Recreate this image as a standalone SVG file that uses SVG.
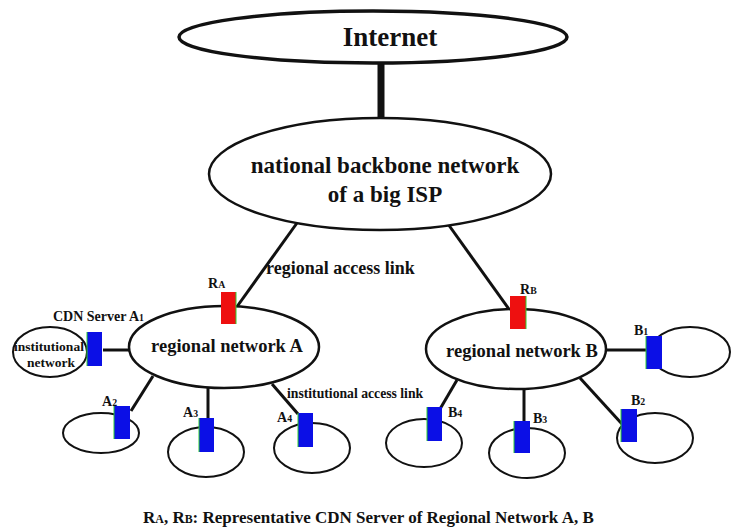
<svg xmlns="http://www.w3.org/2000/svg" width="735" height="529" viewBox="0 0 735 529">
  <style>
    text { font-family: "Liberation Serif", "Times New Roman", serif; font-weight: bold; fill: #111; }
    .net { fill: #fff; stroke: #111; stroke-width: 2.5; }
    .site { fill: #fff; stroke: #111; stroke-width: 2; }
    .link { stroke: #111; stroke-width: 3; fill: none; }
    .rep { fill: #ee1010; }
    .srv { fill: #0b0fe6; }
    .edge { stroke: #2fd02f; stroke-width: 1; }
    .mid { text-anchor: middle; }
    .sub { font-size: 70%; }
  </style>
  <rect width="735" height="529" fill="#fff"/>

  <!-- links between networks and servers -->
  <g id="connectors">
    <line x1="381" y1="62" x2="381" y2="119" stroke="#111" stroke-width="7"/>
    <line class="link" x1="297" y1="223" x2="236" y2="308"/>
    <line class="link" x1="448" y1="224" x2="511" y2="312"/>
    <line class="link" x1="103" y1="350" x2="134" y2="350"/>
    <line class="link" x1="153" y1="376" x2="131" y2="411"/>
    <line class="link" x1="208" y1="388" x2="208" y2="418"/>
    <line class="link" x1="272" y1="384" x2="298" y2="414"/>
    <line class="link" x1="606" y1="350" x2="647" y2="350"/>
    <line class="link" x1="457" y1="380" x2="440" y2="409"/>
    <line class="link" x1="524" y1="388" x2="524" y2="422"/>
    <line class="link" x1="580" y1="378" x2="622" y2="424"/>
  </g>

  <g id="internet">
    <ellipse cx="373" cy="37" rx="194" ry="26" fill="#fff" stroke="#111" stroke-width="3.5"/>
    <text class="mid" x="390" y="46" font-size="27">Internet</text>
  </g>

  <g id="backbone">
    <ellipse class="net" cx="380" cy="174" rx="171" ry="56"/>
    <text class="mid" x="385" y="173" font-size="23">national backbone network</text>
    <text class="mid" x="385" y="202" font-size="23">of a big ISP</text>
  </g>

  <text id="label-regional-access" x="266" y="274" font-size="18">regional access link</text>

  <g id="regional-a">
    <ellipse class="net" cx="224" cy="347" rx="95" ry="41"/>
    <text class="mid" x="227" y="352" font-size="18.5">regional network A</text>
  </g>

  <g id="regional-b">
    <ellipse class="net" cx="516" cy="349" rx="90" ry="40"/>
    <text class="mid" x="522" y="357" font-size="18.5">regional network B</text>
  </g>

  <g id="server-ra">
    <rect class="rep" x="221" y="292" width="15" height="32"/>
    <line class="edge" x1="236" y1="292" x2="236" y2="324"/>
    <text x="208" y="288" font-size="14">R<tspan class="sub">A</tspan></text>
  </g>

  <g id="server-rb">
    <rect class="rep" x="510" y="296" width="16" height="33"/>
    <line class="edge" x1="526" y1="296" x2="526" y2="329"/>
    <text x="520" y="294" font-size="14">R<tspan class="sub">B</tspan></text>
  </g>

  <g id="institution-a1">
    <ellipse class="site" cx="50" cy="352" rx="37" ry="25"/>
    <text class="mid" x="49" y="351" font-size="13.5">institutional</text>
    <text class="mid" x="51" y="367" font-size="13.5">network</text>
    <rect class="srv" x="87" y="332" width="15" height="34"/>
    <line class="edge" x1="87" y1="332" x2="87" y2="366"/>
    <text x="53" y="321" font-size="14">CDN Server A<tspan class="sub">1</tspan></text>
  </g>

  <g id="institution-a2">
    <ellipse class="site" cx="101" cy="433" rx="38" ry="20"/>
    <rect class="srv" x="114" y="406" width="16" height="33"/>
    <line class="edge" x1="114" y1="406" x2="114" y2="439"/>
    <text x="102" y="406" font-size="14">A<tspan class="sub">2</tspan></text>
  </g>

  <g id="institution-a3">
    <ellipse class="site" cx="206" cy="452" rx="38" ry="25"/>
    <rect class="srv" x="199" y="418" width="15" height="34"/>
    <line class="edge" x1="199" y1="418" x2="199" y2="452"/>
    <text x="183" y="417" font-size="14">A<tspan class="sub">3</tspan></text>
  </g>

  <g id="institution-a4">
    <ellipse class="site" cx="312" cy="448" rx="38" ry="25"/>
    <rect class="srv" x="298" y="413" width="15" height="34"/>
    <line class="edge" x1="298" y1="413" x2="298" y2="447"/>
    <text x="277" y="422" font-size="14">A<tspan class="sub">4</tspan></text>
  </g>

  <text id="label-institutional-access" x="287" y="398" font-size="13.7">institutional access link</text>

  <g id="institution-b1">
    <ellipse class="site" cx="690" cy="352" rx="40" ry="25"/>
    <rect class="srv" x="646" y="336" width="16" height="33"/>
    <line class="edge" x1="646" y1="336" x2="646" y2="369"/>
    <text x="634" y="335" font-size="14">B<tspan class="sub">1</tspan></text>
  </g>

  <g id="institution-b2">
    <ellipse class="site" cx="655" cy="438" rx="38" ry="25"/>
    <rect class="srv" x="621" y="409" width="16" height="33"/>
    <line class="edge" x1="621" y1="409" x2="621" y2="442"/>
    <text x="631" y="405" font-size="14">B<tspan class="sub">2</tspan></text>
  </g>

  <g id="institution-b3">
    <ellipse class="site" cx="527" cy="453" rx="38" ry="25"/>
    <rect class="srv" x="514" y="421" width="16" height="32"/>
    <line class="edge" x1="514" y1="421" x2="514" y2="453"/>
    <text x="533" y="423" font-size="14">B<tspan class="sub">3</tspan></text>
  </g>

  <g id="institution-b4">
    <ellipse class="site" cx="424" cy="443" rx="38" ry="24"/>
    <rect class="srv" x="427" y="407" width="15" height="34"/>
    <line class="edge" x1="427" y1="407" x2="427" y2="441"/>
    <text x="448" y="417" font-size="14">B<tspan class="sub">4</tspan></text>
  </g>

  <text id="caption" x="143" y="523" font-size="17">R<tspan class="sub">A</tspan>, R<tspan class="sub">B</tspan>: Representative CDN Server of Regional Network A, B</text>
</svg>
